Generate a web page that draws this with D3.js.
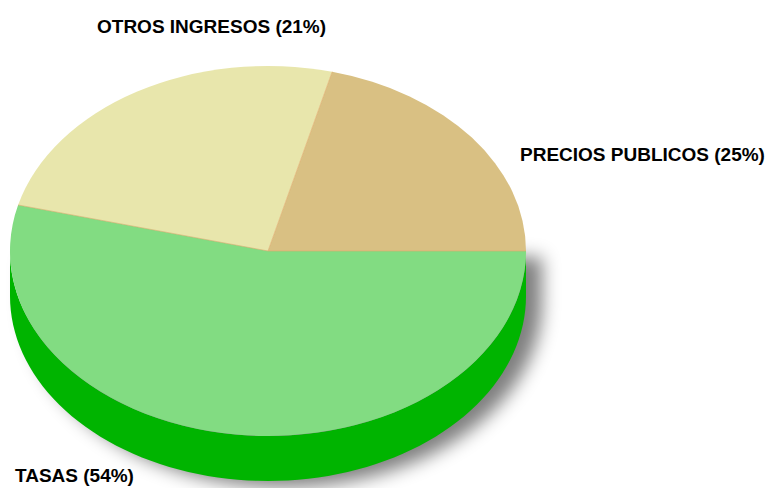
<!DOCTYPE html>
<html>
  <head>
    <meta charset="utf-8" />
    <title>Ingresos</title>
    <style>
      body { margin: 0; background: #fff; font-family: "Liberation Sans", Arial, sans-serif; }
      .label { font-weight: bold; font-size: 19px; fill: #000; }
    </style>
    <script src="https://d3js.org/d3.v7.min.js"></script>
  </head>
  <body>
    <div id="chart"></div>
    <script>
      // data, in drawing order (counterclockwise from 3 o'clock)
      const categories = ["OTROS INGRESOS", "PRECIOS PUBLICOS", "TASAS"];
      const values = [21, 25, 54];
      const labelTexts = ["PRECIOS PUBLICOS (25%)", "OTROS INGRESOS (21%)", "TASAS (54%)"];
      const topColors = ["#d9c083", "#e8e6ac", "#82dc82"];
      const sideColors = ["#b89a55", "#c9c47a", "#00b400"];

      const width = 773, height = 488;
      const cx = 268, cy = 251, rx = 258, ry = 185, depth = 45;
      // label anchors (left x, baseline y) for each slice
      const labelPos = [[520, 161], [97, 33], [15, 482]];

      const svg = d3.select("#chart").append("svg")
        .attr("width", width).attr("height", height);

      const defs = svg.append("defs");
      const f = defs.append("filter").attr("id", "shadow")
        .attr("x", "-20%").attr("y", "-20%").attr("width", "140%").attr("height", "140%");
      f.append("feGaussianBlur").attr("stdDeviation", 9);

      // pie angles: start at 3 o'clock and go counterclockwise
      const pie = d3.pie().sort(null).value(d => d)
        .startAngle(Math.PI / 2).endAngle(Math.PI / 2 - 2 * Math.PI);
      const arcs = pie(values);

      // d3 angle -> point on the ellipse
      const pt = (a, dy = 0) => [cx + rx * Math.sin(a), cy - ry * Math.cos(a) + dy];

      // shadow of the lower body
      const body = d3.path();
      body.moveTo(cx - rx, cy);
      body.lineTo(cx - rx, cy + depth);
      d3.range(0, 61).forEach(i => {
        const a = -Math.PI / 2 - Math.PI * i / 60;
        const p = pt(a, depth);
        body.lineTo(p[0], p[1]);
      });
      body.lineTo(cx + rx, cy);
      body.closePath();
      svg.append("path").attr("d", body.toString())
        .attr("transform", "translate(16,6)")
        .attr("fill", "#000").attr("opacity", 0.5).attr("filter", "url(#shadow)");

      // side walls: front half only
      arcs.forEach((d, i) => {
        const a0 = Math.min(d.startAngle, -Math.PI / 2);
        const a1 = Math.max(d.endAngle, -3 * Math.PI / 2);
        if (a0 <= a1) return;
        const n = 80;
        const p = d3.path();
        const steps = d3.range(n + 1).map(k => a0 + (a1 - a0) * k / n);
        steps.forEach((a, k) => {
          const q = pt(a);
          if (k === 0) p.moveTo(q[0], q[1]); else p.lineTo(q[0], q[1]);
        });
        steps.slice().reverse().forEach(a => {
          const q = pt(a, depth);
          p.lineTo(q[0], q[1]);
        });
        p.closePath();
        svg.append("path").attr("d", p.toString()).attr("fill", sideColors[i]);
      });

      // top face: circular arcs squashed into the ellipse
      const arc = d3.arc().innerRadius(0).outerRadius(rx);
      svg.append("g")
        .attr("transform", `translate(${cx},${cy}) scale(1,${ry / rx})`)
        .selectAll("path")
        .data(arcs)
        .join("path")
        .attr("d", arc)
        .attr("fill", (d, i) => topColors[i]);

      // thin slice borders
      svg.selectAll("line.edge")
        .data(arcs)
        .join("line")
        .attr("class", "edge")
        .attr("x1", cx).attr("y1", cy)
        .attr("x2", d => pt(d.startAngle)[0])
        .attr("y2", d => pt(d.startAngle)[1])
        .attr("stroke", "#e0a868")
        .attr("stroke-width", 0.6);

      svg.selectAll("text.label")
        .data(arcs)
        .join("text")
        .attr("class", "label")
        .attr("x", (d, i) => labelPos[i][0])
        .attr("y", (d, i) => labelPos[i][1])
        .text((d, i) => labelTexts[i]);
    </script>
  </body>
</html>
